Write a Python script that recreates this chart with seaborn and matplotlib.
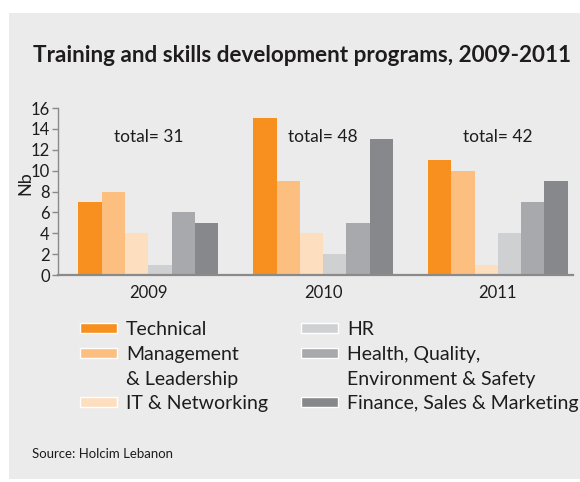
import numpy as np
import pandas as pd
import matplotlib
matplotlib.use("Agg")
import matplotlib.pyplot as plt
import seaborn as sns
from matplotlib.patches import Patch, Rectangle

years = ["2009", "2010", "2011"]
programs = ["Technical", "Management & Leadership", "IT & Networking", "HR",
            "Health, Quality, Environment & Safety", "Finance, Sales & Marketing"]
technical = [7, 15, 11]
management = [8, 9, 10]
it_networking = [4, 4, 1]
hr = [1, 2, 4]
hqes = [6, 5, 7]
finance = [5, 13, 9]
colors = ["#F7901E", "#FDBF80", "#FDDEBF", "#CFD0D2", "#A8A9AC", "#87888B"]

BG = "#EBEBEB"
TXT = "#1E1C1D"

series = [technical, management, it_networking, hr, hqes, finance]
rows = []
for prog, vals in zip(programs, series):
    for yr, v in zip(years, vals):
        rows.append({"year": yr, "program": prog, "count": v})
df = pd.DataFrame(rows)

sns.set_style("white")
plt.rcParams["font.family"] = ["Lato", "DejaVu Sans"]

fig = plt.figure(figsize=(5.8, 4.82), dpi=100)
fig.patch.set_facecolor("white")
fig.patches.append(Rectangle((9 / 580, 3 / 482), 1, 466 / 482, transform=fig.transFigure,
                             facecolor=BG, edgecolor="none", zorder=-10))

ax = fig.add_axes([58 / 580, 207 / 482, 515 / 580, 167 / 482])
ax.set_facecolor(BG)
sns.barplot(data=df, x="year", y="count", hue="program", hue_order=programs,
            order=years, palette=colors, saturation=1, width=0.8, gap=0,
            linewidth=0, edgecolor="none", legend=False, ax=ax)

ax.set_ylim(0, 16)
ax.set_xlim(-0.517, 2.43)
ax.set_yticks(range(0, 17, 2))
for s in ["top", "right"]:
    ax.spines[s].set_visible(False)
ax.spines["left"].set_color("#8A8A8A")
ax.spines["left"].set_linewidth(1.0)
ax.spines["bottom"].set_color("#8A8A8A")
ax.spines["bottom"].set_linewidth(1.6)
ax.tick_params(axis="y", left=True, length=4, width=1, color="#8A8A8A",
               labelsize=12, labelcolor=TXT, pad=2)
ax.tick_params(axis="x", bottom=False, labelsize=12, labelcolor=TXT, pad=4)
ax.set_xlabel("")
ax.set_ylabel("Nb", fontsize=13, color=TXT, va="center")
ax.yaxis.set_label_coords(-0.064, 0.55)

totals = df.groupby("year")["count"].sum()
for i, yr in enumerate(years):
    ax.text(i, 13.2, f"total= {totals[yr]}", ha="center", va="center",
            fontsize=12.5, color=TXT)

fig.text(33 / 580, 1 - 55 / 482, "Training and skills development programs, 2009-2011",
         fontsize=16.2, fontweight="bold", color=TXT, ha="left", va="center")

blank = Patch(facecolor="none", edgecolor="none")
handles = [Patch(facecolor=colors[0]), Patch(facecolor=colors[1]), blank, Patch(facecolor=colors[2]),
           Patch(facecolor=colors[3]), Patch(facecolor=colors[4]), blank, Patch(facecolor=colors[5])]
labels = ["Technical", "Management", "& Leadership", "IT & Networking",
          "HR", "Health, Quality,", "Environment & Safety", "Finance, Sales & Marketing"]
leg = fig.legend(handles, labels, ncol=2, loc="upper left",
                 bbox_to_anchor=(80 / 580, 1 - 321 / 482), frameon=False,
                 fontsize=14, handlelength=1.9, handleheight=0.42, handletextpad=0.47,
                 columnspacing=1.7, labelspacing=0.4, borderpad=0, borderaxespad=0)
for t in leg.get_texts():
    t.set_color(TXT)

fig.text(32 / 580, 1 - 454 / 482, "Source: Holcim Lebanon", fontsize=9.5,
         color=TXT, ha="left", va="center")

fig.savefig("out.png", dpi=100, facecolor=fig.get_facecolor())
